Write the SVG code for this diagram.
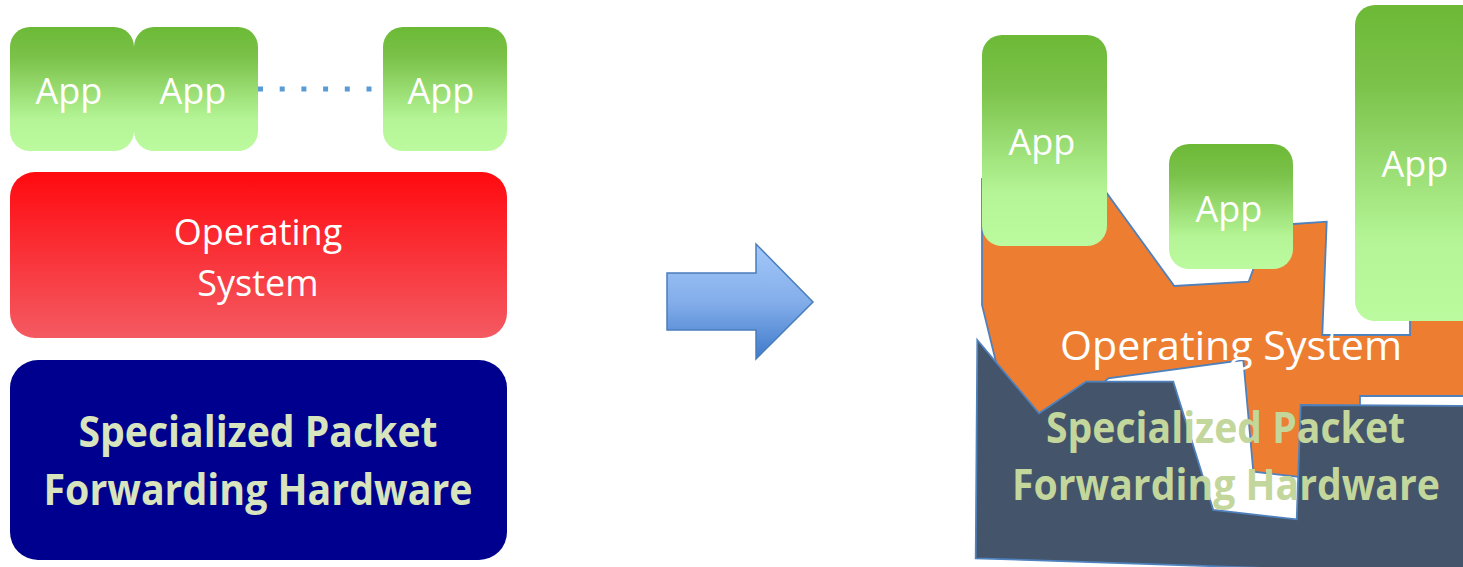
<svg xmlns="http://www.w3.org/2000/svg" width="1463" height="567" viewBox="0 0 1463 567">
<defs>
<linearGradient id="gApp" x1="0" y1="0" x2="0" y2="1">
<stop offset="0" stop-color="#6cb936"/>
<stop offset="0.25" stop-color="#7bc24a"/>
<stop offset="0.75" stop-color="#b5f597"/>
<stop offset="1" stop-color="#bbfa9e"/>
</linearGradient>
<linearGradient id="gOS" x1="0" y1="0" x2="0" y2="1">
<stop offset="0" stop-color="#ff0a0f"/>
<stop offset="1" stop-color="#f45a62"/>
</linearGradient>
<linearGradient id="gArrow" x1="0" y1="0" x2="0" y2="1">
<stop offset="0" stop-color="#a3c8fa"/>
<stop offset="0.5" stop-color="#84aeea"/>
<stop offset="1" stop-color="#3f7acb"/>
</linearGradient>
<style>
.app{fill:url(#gApp)}
.apptxt{font-family:"Open Sans","Noto Sans",sans-serif;font-size:36px;fill:#ffffff;text-anchor:middle}
.ostxt{font-family:"Open Sans","Noto Sans",sans-serif;font-size:36px;fill:#ffffff;text-anchor:middle}
.hwtxt{font-family:"Open Sans","Noto Sans",sans-serif;font-weight:bold;font-size:43px;text-anchor:middle}
.poly{stroke:#4f81bd;stroke-width:1.8;stroke-linejoin:miter}
</style>
</defs>
<rect width="1463" height="567" fill="#ffffff"/>

<g id="connectors">
<line x1="258" y1="89" x2="372" y2="89" stroke="#5b9bd5" stroke-width="5" stroke-dasharray="5 16.7"/>
</g>

<g id="left-app1">
<rect class="app" x="10" y="27" width="124" height="124" rx="20"/>
<text class="apptxt" x="69" y="104">App</text>
</g>
<g id="left-app2">
<rect class="app" x="134" y="27" width="124" height="124" rx="20"/>
<text class="apptxt" x="193" y="104">App</text>
</g>
<g id="left-app3">
<rect class="app" x="383" y="27" width="124" height="124" rx="20"/>
<text class="apptxt" x="441" y="104">App</text>
</g>

<g id="left-os">
<rect x="10" y="172" width="497" height="166" rx="25" fill="url(#gOS)"/>
<text class="ostxt" x="258" y="245">Operating</text>
<text class="ostxt" x="258" y="296">System</text>
</g>

<g id="left-hw">
<rect x="10" y="360" width="497" height="200" rx="28" fill="#00008e"/>
<text class="hwtxt" x="258" y="447" fill="#d7e4bd" textLength="359" lengthAdjust="spacingAndGlyphs">Specialized Packet</text>
<text class="hwtxt" x="258" y="505" fill="#d7e4bd" textLength="429" lengthAdjust="spacingAndGlyphs">Forwarding Hardware</text>
</g>

<g id="arrow">
<polygon points="667,273 756,273 756,244 813,302 756,359 756,330 667,330" fill="url(#gArrow)" stroke="#4a7ebb" stroke-width="1.5"/>
</g>

<g id="right-os">
<polygon class="poly" fill="#ed7d31" points="982,179 1090,170 1174.3,286 1248.7,281.7 1253.3,269 1260,230 1293.3,224 1326.7,221.7 1322.3,335 1410,335 1410,300 1475,300 1475,396 1360,396 1360,405 1298,477 1296.7,476.7 1253.3,471.7 1243.3,360 1108.3,378.3 1060,420 1010,420 995,358 982,305"/>
</g>

<g id="right-hw">
<polygon class="poly" fill="#44546a" points="977.3,340 1039,413.3 1086,381.7 1173.3,381.7 1213.3,510 1296.7,519.3 1300.7,405 1475,406 1475,575 975.7,558.3"/>
</g>

<g id="right-app1">
<rect class="app" x="982" y="35" width="125" height="211" rx="20"/>
<text class="apptxt" x="1042" y="155">App</text>
</g>
<g id="right-app2">
<rect class="app" x="1169" y="144" width="124" height="125" rx="20"/>
<text class="apptxt" x="1229" y="222">App</text>
</g>
<g id="right-app3">
<rect class="app" x="1355" y="5" width="140" height="316" rx="20"/>
<text class="apptxt" x="1415" y="177">App</text>
</g>

<g id="right-labels">
<text class="ostxt" x="1231" y="360" style="font-size:41px" textLength="342" lengthAdjust="spacingAndGlyphs">Operating System</text>
<text class="hwtxt" x="1225.5" y="443" fill="#c3d69b" textLength="359" lengthAdjust="spacingAndGlyphs">Specialized Packet</text>
<text class="hwtxt" x="1226" y="500" fill="#c3d69b" textLength="428" lengthAdjust="spacingAndGlyphs">Forwarding Hardware</text>
</g>
</svg>
